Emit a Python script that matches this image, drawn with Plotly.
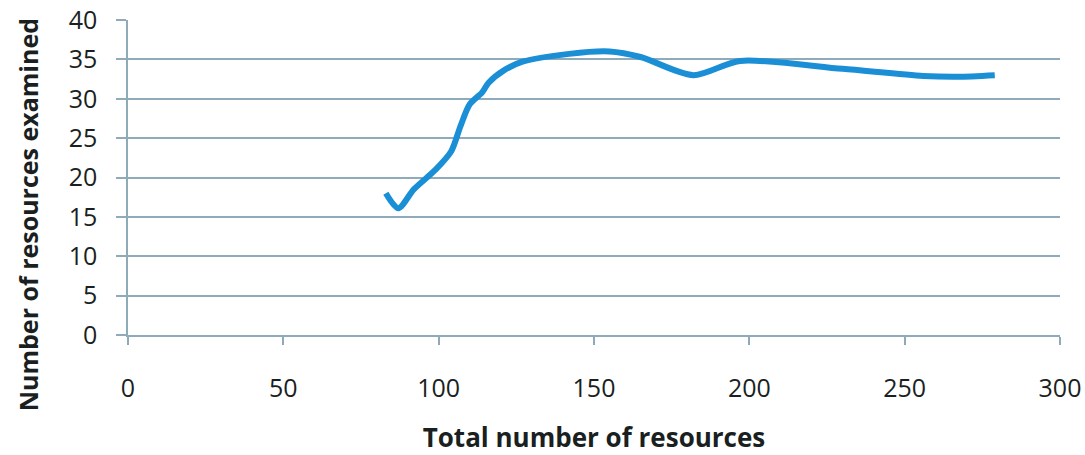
import plotly.graph_objects as go

# Resources examined versus total resources
total_resources = [83, 87, 92, 99, 104, 107, 110, 114, 116, 121, 127, 142, 155, 165, 182, 197, 230, 256, 267, 279]
examined = [18, 16.1, 18.5, 21, 23.3, 26.5, 29.3, 30.8, 32, 33.6, 34.7, 35.7, 36, 35.3, 33, 34.8, 33.8, 32.9, 32.8, 33]

x_ticks = [0, 50, 100, 150, 200, 250, 300]
y_ticks = [0, 5, 10, 15, 20, 25, 30, 35, 40]

grid_color = "#8fabb9"
text_color = "#1a1f22"

fig = go.Figure(
    go.Scatter(
        x=total_resources,
        y=examined,
        mode="lines",
        line=dict(color="#1a8fd6", width=6, shape="spline", smoothing=0.8),
        showlegend=False,
        cliponaxis=False,
    )
)

fig.update_layout(
    width=1085,
    height=455,
    margin=dict(l=128, r=25, t=20, b=120, autoexpand=False),
    paper_bgcolor="white",
    plot_bgcolor="white",
    font=dict(family="Open Sans", color=text_color),
)

fig.update_xaxes(
    range=[0, 300],
    tickvals=x_ticks,
    ticks="outside",
    ticklen=8,
    tickcolor=grid_color,
    tickwidth=1.5,
    showline=True,
    linecolor=grid_color,
    linewidth=1.5,
    showgrid=False,
    zeroline=False,
    automargin=False,
    tickfont=dict(size=25, color=text_color),
    ticklabelstandoff=22,
    title=dict(text="<b>Total number of resources</b>", font=dict(size=26, color=text_color), standoff=26),
)

fig.update_yaxes(
    range=[0, 40],
    tickvals=y_ticks,
    ticks="outside",
    ticklen=10,
    tickcolor=grid_color,
    tickwidth=1.5,
    showline=True,
    linecolor=grid_color,
    linewidth=1.5,
    showgrid=True,
    gridcolor=grid_color,
    gridwidth=1.5,
    zeroline=False,
    automargin=False,
    tickfont=dict(size=25, color=text_color),
    ticklabelstandoff=14,
)

# Vertical axis title, placed as an annotation so it can run below the plot area
fig.add_annotation(
    text="<b>Number of resources examined</b>",
    textangle=-90,
    xref="paper",
    yref="paper",
    x=-0.107,
    y=0.381,
    xanchor="center",
    yanchor="middle",
    showarrow=False,
    font=dict(size=25, color=text_color, family="Open Sans"),
)

fig.write_html("out.html")
